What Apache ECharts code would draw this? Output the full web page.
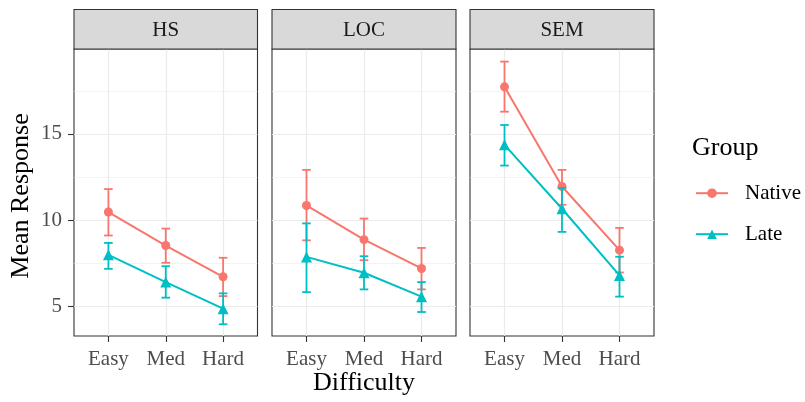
<!DOCTYPE html>
<html>
<head>
<meta charset="utf-8">
<script src="https://cdn.jsdelivr.net/npm/echarts@6/dist/echarts.min.js"></script>
<style>html,body{margin:0;padding:0;background:#fff}#c{width:805px;height:402px}</style>
</head>
<body>
<div id="c"></div>
<script>
// ---- data ----
const categories = ['Easy', 'Med', 'Hard'];
const panelNames = ['HS', 'LOC', 'SEM'];
const groupNames = ['Native', 'Late'];
const yTickValues = [5, 10, 15];
const yMinorValues = [7.5, 12.5, 17.5];

const nativeHS = [10.48, 8.54, 6.73];
const nativeHSLow = [9.12, 7.54, 5.61];
const nativeHSHigh = [11.81, 9.52, 7.83];
const lateHS = [8.0, 6.42, 4.88];
const lateHSLow = [7.19, 5.52, 3.98];
const lateHSHigh = [8.69, 7.34, 5.77];

const nativeLOC = [10.86, 8.88, 7.21];
const nativeLOCLow = [8.84, 7.69, 6.0];
const nativeLOCHigh = [12.92, 10.1, 8.4];
const lateLOC = [7.88, 6.96, 5.58];
const lateLOCLow = [5.84, 6.0, 4.69];
const lateLOCHigh = [9.82, 7.92, 6.42];

const nativeSEM = [17.73, 11.96, 8.27];
const nativeSEMLow = [16.29, 10.9, 6.98];
const nativeSEMHigh = [19.19, 12.92, 9.56];
const lateSEM = [14.37, 10.67, 6.81];
const lateSEMLow = [13.17, 9.33, 5.58];
const lateSEMHigh = [15.52, 11.87, 7.89];

const panelData = [
  { mean: [nativeHS, lateHS], low: [nativeHSLow, lateHSLow], high: [nativeHSHigh, lateHSHigh] },
  { mean: [nativeLOC, lateLOC], low: [nativeLOCLow, lateLOCLow], high: [nativeLOCHigh, lateLOCHigh] },
  { mean: [nativeSEM, lateSEM], low: [nativeSEMLow, lateSEMLow], high: [nativeSEMHigh, lateSEMHigh] }
];

// ---- style / layout ----
const FONT = '"Liberation Serif", "DejaVu Serif", serif';
const colors = ['#F8766D', '#00BFC4'];
const symbols = ['circle', 'triangle'];
const symbolSizes = [9, 11];
const gridLefts = [74, 272, 470];
const gridWidths = [183.5, 184, 184];
const gridTop = 49, gridHeight = 287;
const stripTop = 9.5;
const yMin = 3.3, yMax = 19.92;

const grids = [], xAxes = [], yAxes = [], series = [], graphics = [];
const xIdx = categories.map((c, i) => i + 1);

panelNames.forEach((pn, p) => {
  grids.push({ left: gridLefts[p], top: gridTop, width: gridWidths[p], height: gridHeight,
    show: true, borderColor: '#333333', borderWidth: 1.1, backgroundColor: '#fff', containLabel: false });
  xAxes.push({
    type: 'value', gridIndex: p, min: 0.4, max: 3.6,
    axisLine: { show: false },
    axisTick: { show: true, customValues: xIdx, length: 6, lineStyle: { color: '#333333', width: 1.1 } },
    axisLabel: { show: true, customValues: xIdx, margin: 13, color: '#4D4D4D', fontFamily: FONT, fontSize: 21,
      formatter: v => categories[Math.round(v) - 1] || '' },
    splitLine: { show: true, lineStyle: { color: '#EBEBEB', width: 1.2 } }
  });
  // major y
  yAxes.push({
    type: 'value', gridIndex: p, min: yMin, max: yMax,
    axisLine: { show: false },
    axisTick: { show: p === 0, customValues: yTickValues, length: 6, lineStyle: { color: '#333333', width: 1.1 } },
    axisLabel: { show: p === 0, customValues: yTickValues, margin: 12, color: '#4D4D4D', fontFamily: FONT, fontSize: 21 },
    splitLine: { show: true, lineStyle: { color: '#EBEBEB', width: 1.2 } }
  });
  // minor y grid
  yAxes.push({
    type: 'value', gridIndex: p, min: yMin, max: yMax, position: 'left',
    axisLine: { show: false },
    axisTick: { show: false, customValues: yMinorValues },
    axisLabel: { show: false, customValues: yMinorValues },
    splitLine: { show: true, lineStyle: { color: '#EBEBEB', width: 0.6 } }
  });

  const d = panelData[p];
  groupNames.forEach((g, gi) => {
    series.push({
      name: g, type: 'line', xAxisIndex: p, yAxisIndex: p * 2,
      data: xIdx.map((x, i) => [x, d.mean[gi][i]]),
      symbol: symbols[gi], symbolSize: symbolSizes[gi],
      lineStyle: { color: colors[gi], width: 2 },
      itemStyle: { color: colors[gi] },
      z: 4 + gi * 2, silent: true, animation: false
    });
    series.push({
      name: g, type: 'custom', xAxisIndex: p, yAxisIndex: p * 2,
      data: xIdx.map((x, i) => [x, d.low[gi][i], d.high[gi][i]]),
      z: 3 + gi * 2, silent: true, animation: false,
      renderItem: (params, api) => {
        const x = api.value(0);
        const a = api.coord([x, api.value(1)]);
        const b = api.coord([x, api.value(2)]);
        const hw = api.size([0.15, 0])[0] / 2;
        const st = { stroke: colors[gi], lineWidth: 1.8, fill: null };
        return { type: 'group', children: [
          { type: 'line', shape: { x1: a[0], y1: a[1], x2: b[0], y2: b[1] }, style: st },
          { type: 'line', shape: { x1: a[0] - hw, y1: a[1], x2: a[0] + hw, y2: a[1] }, style: st },
          { type: 'line', shape: { x1: b[0] - hw, y1: b[1], x2: b[0] + hw, y2: b[1] }, style: st }
        ] };
      }
    });
  });

  // strip
  graphics.push({ type: 'rect', shape: { x: gridLefts[p], y: stripTop, width: gridWidths[p], height: gridTop - stripTop },
    style: { fill: '#D9D9D9', stroke: '#333333', lineWidth: 1.1 }, z: 10 });
  graphics.push({ type: 'text', x: gridLefts[p] + gridWidths[p] / 2, y: (stripTop + gridTop) / 2 + 1,
    style: { text: pn, fontFamily: FONT, fontSize: 21, fill: '#1A1A1A', align: 'center', verticalAlign: 'middle' }, z: 11 });
});

graphics.push({ type: 'text', x: 364, y: 383,
  style: { text: 'Difficulty', fontFamily: FONT, fontSize: 26, fill: '#000', align: 'center', verticalAlign: 'middle' } });
graphics.push({ type: 'text', x: 21, y: 196, rotation: Math.PI / 2,
  style: { text: 'Mean Response', fontFamily: FONT, fontSize: 26, fill: '#000', align: 'center', verticalAlign: 'middle' } });
graphics.push({ type: 'text', x: 692, y: 148,
  style: { text: 'Group', fontFamily: FONT, fontSize: 26, fill: '#000', align: 'left', verticalAlign: 'middle' } });

const chart = echarts.init(document.getElementById('c'), null, { renderer: 'canvas' });
chart.setOption({
  animation: false,
  backgroundColor: '#ffffff',
  grid: grids, xAxis: xAxes, yAxis: yAxes, series: series,
  legend: {
    data: groupNames, orient: 'vertical', left: 690, top: 177.7,
    itemWidth: 32, itemHeight: 12, itemGap: 20,
    textStyle: { fontFamily: FONT, fontSize: 21, color: '#000', padding: [0, 0, 0, 12] },
    selectedMode: false
  },
  graphic: graphics
});
</script>
</body>
</html>
